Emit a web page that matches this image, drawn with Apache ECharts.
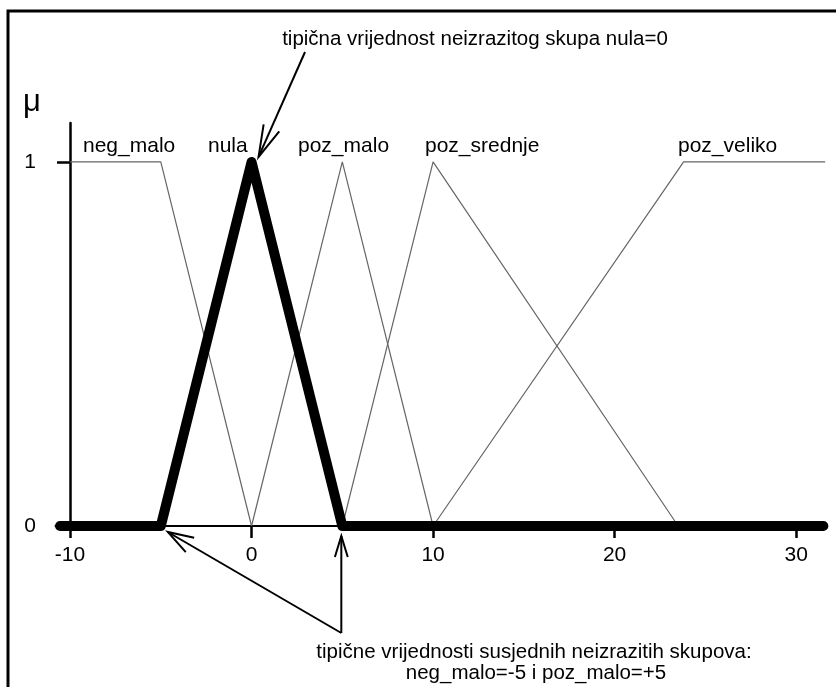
<!DOCTYPE html>
<html>
<head>
<meta charset="utf-8">
<script src="https://cdn.jsdelivr.net/npm/echarts@6/dist/echarts.min.js"></script>
<style>html,body{margin:0;padding:0;background:#fff;}#c{width:836px;height:687px;}</style>
</head>
<body>
<div id="c"></div>
<script>
// ---- data ----
const setNames = ['neg_malo', 'nula', 'poz_malo', 'poz_srednje', 'poz_veliko'];
const negMalo = [[-10, 1], [-5, 1], [0, 0]];
const nula = [[-10.55, 0], [-5, 0], [0, 1], [5, 0], [31.5, 0]];
const pozMalo = [[0, 0], [5, 1], [10, 0]];
const pozSrednje = [[5, 0], [10, 1], [23.5, 0]];
const pozVeliko = [[10, 0], [23.8, 1], [31.6, 1]];
const xTickValues = [-10, 0, 10, 20, 30];
const yTickValues = [0, 1];
const yAxisName = 'μ';
const topNote = 'tipična vrijednost neizrazitog skupa nula=0';
const bottomNote1 = 'tipične vrijednosti susjednih neizrazitih skupova:';
const bottomNote2 = 'neg_malo=-5 i poz_malo=+5';

const FONT = "'Liberation Sans', Arial, Helvetica, sans-serif";
const chart = echarts.init(document.getElementById('c'), null, {renderer: 'canvas'});

function thin(name, data) {
  return {
    name: name, type: 'line', data: data, symbol: 'none', clip: false, z: 2,
    lineStyle: {color: '#666', width: 1.2}
  };
}

const option = {
  animation: false,
  backgroundColor: '#fff',
  grid: {left: 55.5, right: 9, top: 123, bottom: 161, containLabel: false},
  xAxis: {
    type: 'value', min: -10.8, max: 31.7,
    splitLine: {show: false},
    axisLine: {onZero: false, lineStyle: {color: '#000', width: 2}},
    axisTick: {show: true, customValues: xTickValues, length: 12, lineStyle: {color: '#000', width: 2.5}},
    axisLabel: {customValues: xTickValues, margin: 19, color: '#000', fontSize: 21, fontFamily: FONT}
  },
  yAxis: {
    type: 'value', min: 0, max: 1.107, offset: -14.5,
    splitLine: {show: false},
    axisLine: {onZero: false, lineStyle: {color: '#000', width: 2.5}},
    axisTick: {show: true, customValues: [1], length: 13, lineStyle: {color: '#000', width: 2.5}},
    axisLabel: {customValues: yTickValues, margin: 34, color: '#000', fontSize: 21, fontFamily: FONT, padding: [8, 0, 0, 0]}
  },
  series: [
    thin(setNames[0], negMalo),
    thin(setNames[2], pozMalo),
    thin(setNames[3], pozSrednje),
    thin(setNames[4], pozVeliko),
    {
      name: setNames[1], type: 'line', data: nula, symbol: 'none', clip: false, z: 5,
      lineStyle: {color: '#000', width: 10, cap: 'round', join: 'round'}
    }
  ]
};
chart.setOption(option);

function px(p) { return chart.convertToPixel({gridIndex: 0}, p); }

function arrow(tail, tip, headLen, angDeg) {
  const dx = tail[0] - tip[0], dy = tail[1] - tip[1];
  const L = Math.sqrt(dx * dx + dy * dy);
  const ux = dx / L, uy = dy / L;
  const a = angDeg * Math.PI / 180;
  const w1 = [tip[0] + headLen * (ux * Math.cos(a) - uy * Math.sin(a)), tip[1] + headLen * (ux * Math.sin(a) + uy * Math.cos(a))];
  const w2 = [tip[0] + headLen * (ux * Math.cos(-a) - uy * Math.sin(-a)), tip[1] + headLen * (ux * Math.sin(-a) + uy * Math.cos(-a))];
  const st = {stroke: '#000', lineWidth: 2, fill: null};
  return [
    {type: 'polyline', shape: {points: [tail, tip]}, style: st, z: 20},
    {type: 'polyline', shape: {points: [w1, tip, w2]}, style: st, z: 20}
  ];
}

function txt(text, x, y, size, align) {
  return {type: 'text', x: x, y: y, z: 20,
    style: {text: text, fill: '#000', font: size + 'px ' + FONT, align: align || 'left', verticalAlign: 'middle'}};
}

const peak = px([0, 1]);
const leftFoot = px([-5, 0]);
const rightFoot = px([5, 0]);
const tailBottom = [rightFoot[0] - 1, 633];

let g = [];
// frame
g.push({type: 'polyline', shape: {points: [[8, 687], [8, 11], [836, 11]]}, style: {stroke: '#000', lineWidth: 3, fill: null}, z: 20});
// arrows
g = g.concat(arrow([305, 52], [peak[0] + 7, peak[1] - 5], 33, 15));
g = g.concat(arrow(tailBottom, [leftFoot[0] + 7, leftFoot[1] + 6], 27, 18));
g = g.concat(arrow(tailBottom, [rightFoot[0] - 1, rightFoot[1] + 10], 22, 17));
// labels
g.push(txt(yAxisName, 23, 102, 31));
g.push(txt(setNames[0], 83, 146, 21));
g.push(txt(setNames[1], 208, 146, 21));
g.push(txt(setNames[2], 298, 146, 21));
g.push(txt(setNames[3], 425, 146, 21));
g.push(txt(setNames[4], 678, 146, 21));
g.push(txt(topNote, 475, 39, 20.5, 'center'));
g.push(txt(bottomNote1, 534, 652, 20.5, 'center'));
g.push(txt(bottomNote2, 536, 673, 20.5, 'center'));

chart.setOption({graphic: g});
</script>
</body>
</html>
